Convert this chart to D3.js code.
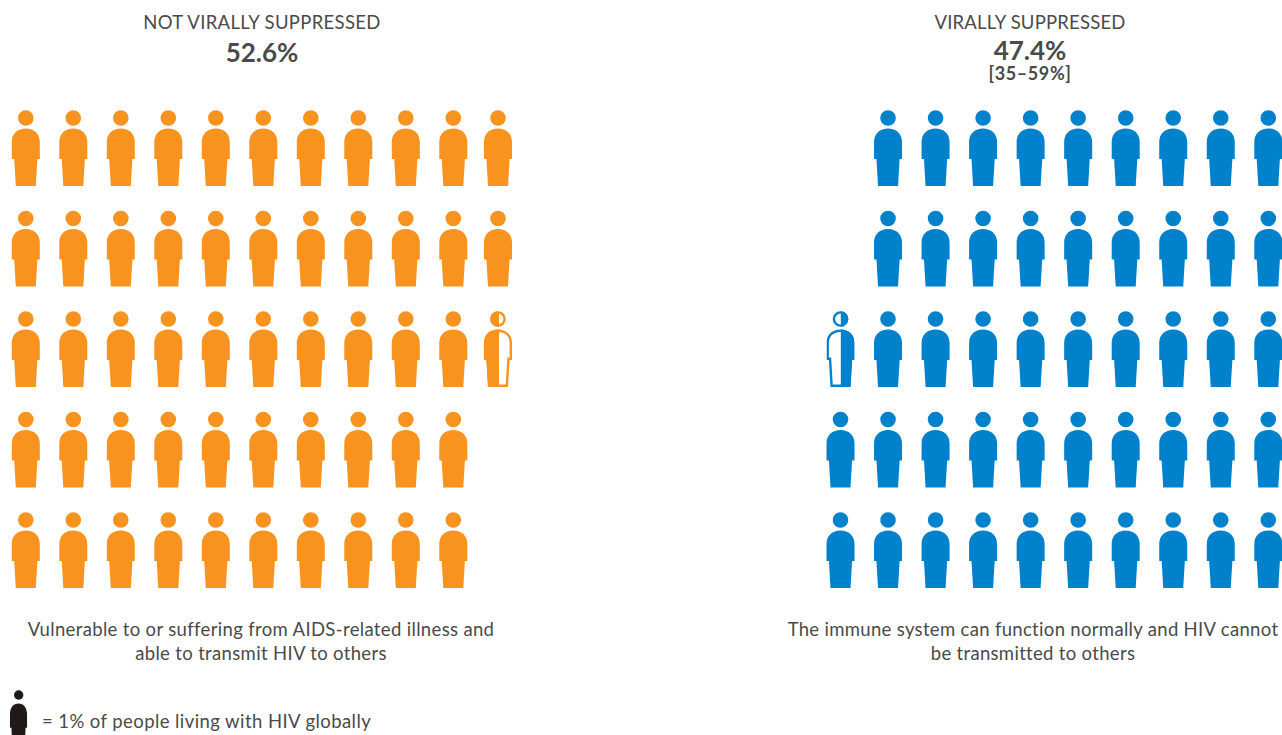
<!DOCTYPE html>
<html><head><meta charset="utf-8">
<script src="https://cdn.jsdelivr.net/npm/d3@7"></script>
<style>
html,body{margin:0;padding:0;background:#fff;overflow:hidden}
svg{display:block}
text{font-family:Lato,"Open Sans",sans-serif;fill:#4a4a4a;text-anchor:middle}
</style></head><body>
<script>
// Data: whole-person counts per row, then fractional persons
const rows = [0, 1, 2, 3, 4];
const leftRowCounts = [11, 11, 10.6, 10, 10];
const rightRowCounts = [9, 9, 9.4, 10, 10];
const leftColumns = [0,1,2,3,4,5,6,7,8,9,10];
const rightColumns = [0,1,2,3,4,5,6,7,8,9];
const leftTitle = "NOT VIRALLY SUPPRESSED", leftValue = "52.6%";
const rightTitle = "VIRALLY SUPPRESSED", rightValue = "47.4%", rightRange = "[35–59%]";
const leftCaption = ["Vulnerable to or suffering from AIDS-related illness and", "able to transmit HIV to others"];
const rightCaption = ["The immune system can function normally and HIV cannot", "be transmitted to others"];
const legendText = "= 1% of people living with HIV globally";
const orange = "#F8931F", blue = "#0081CC", ink = "#1f1a17";

const W = 1282, H = 735;
const svg = d3.select("body").append("svg").attr("width", W).attr("height", H);
const defs = svg.append("defs");

const y = d3.scaleLinear().domain([0, 4]).range([118, 520]);
const xL = d3.scaleLinear().domain([0, 9, 10]).range([25.8, 453.3, 498]);
const xR = d3.scaleLinear().domain([0, 9]).range([840.5, 1268.3]);

const bodyD = "M-14,41 L-14,24 C-14,15.5 -8,10.5 0,10.5 C8,10.5 14,15.5 14,24 L14,41 L11.6,41 L10,68 L-10,68 L-11.6,41 Z";
const headP = d3.path(); headP.moveTo(7.8,0); headP.arc(0,0,7.8,0,2*Math.PI); headP.closePath();
const personD = bodyD + " " + headP.toString();

defs.append("clipPath").attr("id","shape").append("path").attr("d",personD);

function full(g, px, py, color){
  g.append("path").attr("d",personD).attr("transform",`translate(${px},${py})`).attr("fill",color);
}
function partial(g, px, py, color, side){
  const p = g.append("g").attr("transform",`translate(${px},${py})`);
  const c = p.append("g").attr("clip-path","url(#shape)");
  c.append("path").attr("d",personD).attr("fill","#fff").attr("stroke",color).attr("stroke-width",4.8);
  c.append("rect").attr("x", side==="left" ? -20 : 0.3).attr("y",-10)
    .attr("width", side==="left" ? 21 : 20).attr("height",90).attr("fill",color);
}

function draw(counts, columns, xs, color, alignRight){
  const g = svg.append("g");
  rows.forEach(r => {
    const n = counts[r], whole = Math.floor(n), hasPart = n > whole;
    const total = whole + (hasPart ? 1 : 0);
    for (let i = 0; i < total; i++) {
      const col = alignRight ? columns[columns.length - 1 - i] : columns[i];
      if (hasPart && i === total - 1) partial(g, xs(col), y(r), color, alignRight ? "right" : "left");
      else full(g, xs(col), y(r), color);
    }
  });
}
draw(leftRowCounts, leftColumns, xL, orange, false);
draw(rightRowCounts, rightColumns, xR, blue, true);

function t(x, yy, s, size, weight, ls){
  svg.append("text").attr("x",x).attr("y",yy).attr("font-size",size).attr("font-weight",weight||400)
    .attr("letter-spacing",ls||0).text(s);
}
t(262, 29, leftTitle, 18.5, 400, 0.32);
t(262, 62, leftValue, 26, 700);
t(1030, 29, rightTitle, 18.5, 400, 0.2);
t(1030, 60, rightValue, 26, 700);
t(1030, 80, rightRange, 18, 700, 0.6);
leftCaption.forEach((s,i)=>t(261, 636+24*i, s, 18.5, 400, 0.34));
rightCaption.forEach((s,i)=>t(1033, 636+24*i, s, 18.5, 400, 0.32));

// legend
const lg = svg.append("g");
lg.append("circle").attr("cx",18.7).attr("cy",695).attr("r",4.7).attr("fill",ink);
lg.append("path").attr("d",bodyD).attr("transform","translate(18.5,695) scale(0.61,0.8)").attr("fill",ink);
svg.append("text").attr("x",42).attr("y",727.5).attr("font-size",18.5).attr("letter-spacing",0.42).style("text-anchor","start").text(legendText);
</script>
</body></html>
